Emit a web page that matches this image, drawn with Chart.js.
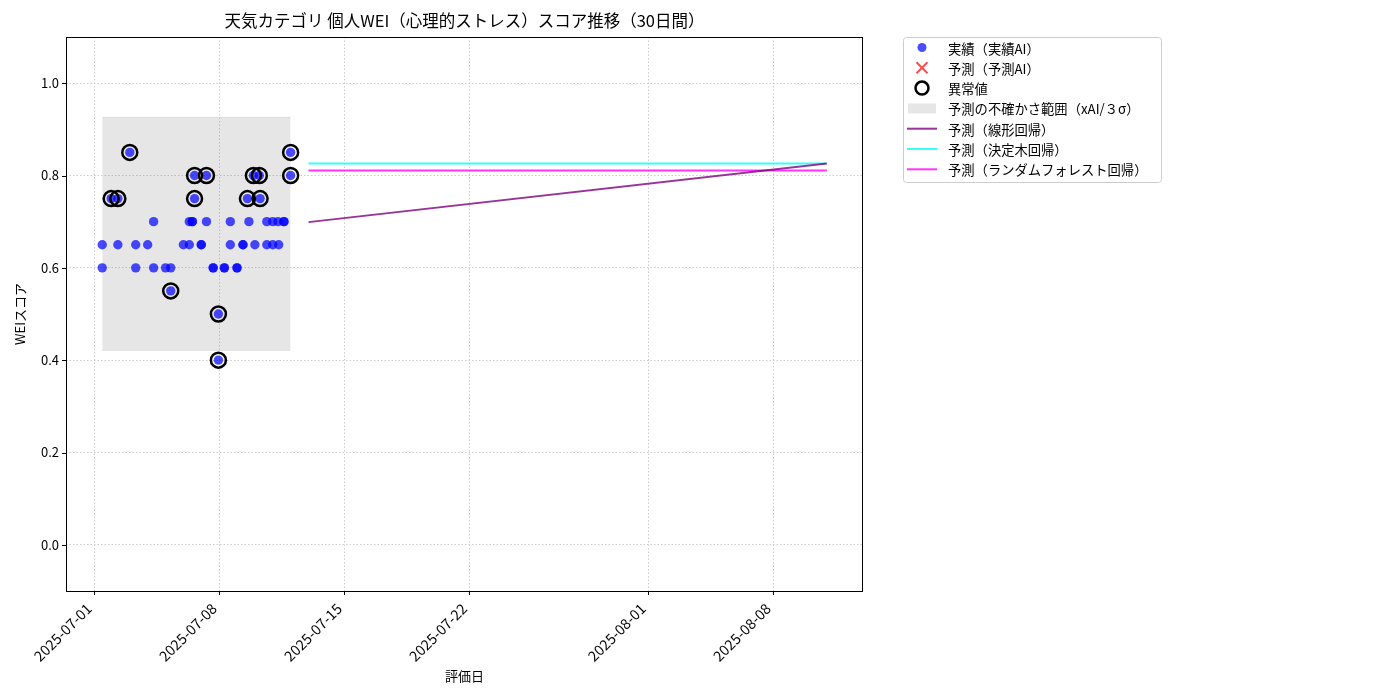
<!DOCTYPE html>
<html>
<head>
<meta charset="utf-8">
<script src="https://cdn.jsdelivr.net/npm/chart.js@4/dist/chart.umd.min.js"></script>
<style>
  html, body { margin: 0; padding: 0; background: #fff; }
  #wrap { width: 1400px; height: 700px; }
</style>
</head>
<body>
<div id="wrap"><canvas id="chart"></canvas></div>
<script>
// actual scores (実績)
const actualDates = [
  '2025-07-01T11:00', '2025-07-01T11:00', '2025-07-01T23:00', '2025-07-02T08:00', '2025-07-02T08:00',
  '2025-07-03T00:00', '2025-07-03T08:00', '2025-07-03T08:00', '2025-07-04T00:00', '2025-07-04T08:00',
  '2025-07-04T08:00', '2025-07-05T00:00', '2025-07-05T07:00', '2025-07-05T07:00', '2025-07-06T00:00',
  '2025-07-06T08:00', '2025-07-06T08:00', '2025-07-06T12:00', '2025-07-06T12:00', '2025-07-06T15:00',
  '2025-07-06T15:00', '2025-07-07T00:00', '2025-07-07T00:00', '2025-07-07T07:00', '2025-07-07T07:00',
  '2025-07-07T16:00', '2025-07-07T16:00', '2025-07-07T23:00', '2025-07-07T23:00', '2025-07-08T07:00',
  '2025-07-08T07:00', '2025-07-08T15:00', '2025-07-08T15:00', '2025-07-09T00:00', '2025-07-09T00:00',
  '2025-07-09T08:00', '2025-07-09T08:00', '2025-07-09T14:00', '2025-07-09T16:00', '2025-07-09T22:00',
  '2025-07-10T00:00', '2025-07-10T06:00', '2025-07-10T07:00', '2025-07-10T16:00', '2025-07-10T16:00',
  '2025-07-11T00:00', '2025-07-11T00:00', '2025-07-11T07:00', '2025-07-11T08:00', '2025-07-11T15:00',
  '2025-07-11T15:00', '2025-07-12T00:00', '2025-07-12T00:00'
];
const actualValues = [
  0.65, 0.60, 0.75, 0.75, 0.65,
  0.85, 0.65, 0.60, 0.65, 0.70,
  0.60, 0.60, 0.60, 0.55, 0.65,
  0.65, 0.70, 0.70, 0.70, 0.80,
  0.75, 0.65, 0.65, 0.80, 0.70,
  0.60, 0.60, 0.50, 0.40, 0.60,
  0.60, 0.70, 0.65, 0.60, 0.60,
  0.65, 0.65, 0.75, 0.70, 0.80,
  0.65, 0.80, 0.75, 0.70, 0.65,
  0.70, 0.65, 0.70, 0.65, 0.70,
  0.70, 0.85, 0.80
];

// anomalies (異常値)
const anomalyDates = [
  '2025-07-01T23:00', '2025-07-02T08:00', '2025-07-03T00:00', '2025-07-05T07:00', '2025-07-06T15:00',
  '2025-07-06T15:00', '2025-07-07T07:00', '2025-07-07T23:00', '2025-07-07T23:00', '2025-07-09T14:00',
  '2025-07-09T22:00', '2025-07-10T06:00', '2025-07-10T07:00', '2025-07-12T00:00', '2025-07-12T00:00'
];
const anomalyValues = [
  0.75, 0.75, 0.85, 0.55, 0.80,
  0.75, 0.80, 0.50, 0.40, 0.75,
  0.80, 0.80, 0.75, 0.85, 0.80
];

// uncertainty band (xAI / 3σ)
const bandDates = ['2025-07-01T11:00', '2025-07-12T00:00'];
const bandUpper = [0.926, 0.926];
const bandLower = [0.421, 0.421];

// forecast lines
const forecastDates = ['2025-07-13', '2025-08-11'];
const linearValues = [0.699, 0.826];
const treeValues = [0.826, 0.826];
const forestValues = [0.811, 0.811];

// ticks
const xTickDates = ['2025-07-01', '2025-07-08', '2025-07-15', '2025-07-22', '2025-08-01', '2025-08-08'];
const yTickValues = [0.0, 0.2, 0.4, 0.6, 0.8, 1.0];

const t = s => Date.parse(s + (s.length === 10 ? 'T00:00Z' : 'Z'));
const pts = (ds, vs) => ds.map((d, i) => ({ x: t(d), y: vs[i] }));

const allX = actualDates.concat(forecastDates).map(t);
const xMin0 = Math.min(...allX), xMax0 = Math.max(...allX);
const xPad = (xMax0 - xMin0) * 0.05;

const FONT = '"Noto Sans CJK JP", "Noto Sans", sans-serif';

const legendItems = [
  { label: '実績（実績AI）', type: 'dot' },
  { label: '予測（予測AI）', type: 'cross' },
  { label: '異常値', type: 'ring' },
  { label: '予測の不確かさ範囲（xAI/３σ）', type: 'rect' },
  { label: '予測（線形回帰）', type: 'line', color: 'rgba(128,0,128,0.8)' },
  { label: '予測（決定木回帰）', type: 'line', color: 'rgba(0,255,255,0.8)' },
  { label: '予測（ランダムフォレスト回帰）', type: 'line', color: 'rgba(255,0,255,0.8)' }
];

const decor = {
  id: 'decor',
  afterDraw(chart) {
    const { ctx, chartArea: a, scales } = chart;
    ctx.save();
    // frame
    ctx.strokeStyle = '#000';
    ctx.lineWidth = 1;
    ctx.strokeRect(a.left + 0.5, a.top + 0.5, a.right - a.left - 1, a.bottom - a.top);
    // tick marks
    ctx.beginPath();
    xTickDates.forEach(d => {
      const x = Math.round(scales.x.getPixelForValue(t(d))) + 0.5;
      ctx.moveTo(x, a.bottom); ctx.lineTo(x, a.bottom + 4);
    });
    yTickValues.forEach(v => {
      const y = Math.round(scales.y.getPixelForValue(v)) + 0.5;
      ctx.moveTo(a.left - 4, y); ctx.lineTo(a.left, y);
    });
    ctx.stroke();

    // rotated x tick labels
    ctx.fillStyle = '#000';
    ctx.font = '14.5px ' + FONT;
    ctx.textAlign = 'right';
    ctx.textBaseline = 'middle';
    xTickDates.forEach(d => {
      const x = scales.x.getPixelForValue(t(d));
      ctx.save();
      ctx.translate(x - 5, a.bottom + 15);
      ctx.rotate(-Math.PI / 4);
      ctx.fillText(d, 0, 0);
      ctx.restore();
    });

    // title
    ctx.textAlign = 'center';
    ctx.font = '16.5px ' + FONT;
    ctx.fillText('天気カテゴリ 個人WEI（心理的ストレス）スコア推移（30日間）', (a.left + a.right) / 2, 21);
    // axis titles
    ctx.font = '13px ' + FONT;
    ctx.fillText('評価日', (a.left + a.right) / 2, 676);
    ctx.save();
    ctx.translate(20, (a.top + a.bottom) / 2);
    ctx.rotate(-Math.PI / 2);
    ctx.fillText('WEIスコア', 0, 0);
    ctx.restore();

    // legend
    const lx = 903, ly = 37, lw = 258, lh = 145;
    ctx.beginPath();
    ctx.roundRect(lx + 0.5, ly + 0.5, lw, lh, 3);
    ctx.fillStyle = 'rgba(255,255,255,0.8)';
    ctx.fill();
    ctx.strokeStyle = '#cccccc';
    ctx.stroke();
    ctx.font = '13.3px ' + FONT;
    ctx.textAlign = 'left';
    legendItems.forEach((it, i) => {
      const cy = ly + 10.5 + i * 20.3;
      const mx = 922;
      if (it.type === 'dot') {
        ctx.beginPath(); ctx.arc(mx, cy, 4.5, 0, Math.PI * 2);
        ctx.fillStyle = 'rgba(0,0,255,0.7)'; ctx.fill();
      } else if (it.type === 'cross') {
        ctx.beginPath();
        ctx.moveTo(mx - 5.5, cy - 5.5); ctx.lineTo(mx + 5.5, cy + 5.5);
        ctx.moveTo(mx + 5.5, cy - 5.5); ctx.lineTo(mx - 5.5, cy + 5.5);
        ctx.strokeStyle = 'rgba(255,0,0,0.7)'; ctx.lineWidth = 2; ctx.stroke();
      } else if (it.type === 'ring') {
        ctx.beginPath(); ctx.arc(mx, cy, 6.5, 0, Math.PI * 2);
        ctx.strokeStyle = '#000'; ctx.lineWidth = 2.5; ctx.stroke();
      } else if (it.type === 'rect') {
        ctx.fillStyle = 'rgba(128,128,128,0.2)';
        ctx.fillRect(908, cy - 5, 28, 10);
      } else {
        ctx.beginPath(); ctx.moveTo(907, cy); ctx.lineTo(937, cy);
        ctx.strokeStyle = it.color; ctx.lineWidth = 2; ctx.stroke();
      }
      ctx.fillStyle = '#000';
      ctx.fillText(it.label, 948, cy + 1);
    });
    ctx.restore();
  }
};

new Chart(document.getElementById('chart').getContext('2d'), {
  type: 'scatter',
  data: {
    datasets: [
      {
        label: '異常値',
        data: pts(anomalyDates, anomalyValues),
        pointRadius: 7.5,
        pointBorderWidth: 2.5,
        pointBackgroundColor: 'rgba(0,0,0,0)',
        pointBorderColor: '#000',
        order: 0
      },
      {
        label: '実績（実績AI）',
        data: pts(actualDates, actualValues),
        pointRadius: 4.7,
        pointBorderWidth: 0,
        pointBackgroundColor: 'rgba(0,0,255,0.7)',
        order: 1
      },
      {
        type: 'line',
        label: '予測（線形回帰）',
        data: pts(forecastDates, linearValues),
        borderColor: 'rgba(128,0,128,0.8)',
        borderWidth: 2,
        pointRadius: 0,
        order: 2
      },
      {
        type: 'line',
        label: '予測（決定木回帰）',
        data: pts(forecastDates, treeValues),
        borderColor: 'rgba(0,255,255,0.8)',
        borderWidth: 2,
        pointRadius: 0,
        order: 3
      },
      {
        type: 'line',
        label: '予測（ランダムフォレスト回帰）',
        data: pts(forecastDates, forestValues),
        borderColor: 'rgba(255,0,255,0.8)',
        borderWidth: 2,
        pointRadius: 0,
        order: 4
      },
      {
        type: 'line',
        label: '予測の不確かさ範囲',
        data: pts(bandDates, bandUpper),
        borderColor: 'rgba(128,128,128,0.15)',
        borderWidth: 1,
        backgroundColor: 'rgba(128,128,128,0.2)',
        pointRadius: 0,
        fill: '+1',
        order: 5
      },
      {
        type: 'line',
        label: 'band lower',
        data: pts(bandDates, bandLower),
        borderColor: 'rgba(128,128,128,0.15)',
        borderWidth: 1,
        pointRadius: 0,
        order: 6
      }
    ]
  },
  options: {
    responsive: true,
    maintainAspectRatio: false,
    animation: false,
    layout: { padding: { top: 37, right: 537, left: 0, bottom: 0 } },
    plugins: {
      legend: { display: false },
      title: { display: false },
      tooltip: { enabled: false },
      filler: { propagate: false }
    },
    scales: {
      x: {
        type: 'linear',
        min: xMin0 - xPad,
        max: xMax0 + xPad,
        afterBuildTicks: s => { s.ticks = xTickDates.map(d => ({ value: t(d) })); },
        afterFit: s => { s.height = 109; },
        grid: { color: '#cccccc', drawTicks: false },
        border: { display: false, dash: [1.5, 2] },
        ticks: { display: false }
      },
      y: {
        min: -0.1,
        max: 1.1,
        afterBuildTicks: s => { s.ticks = yTickValues.map(v => ({ value: v })); },
        afterFit: s => { s.width = 66; },
        grid: { color: '#cccccc', drawTicks: false },
        border: { display: false, dash: [1.5, 2] },
        ticks: {
          padding: 7,
          color: '#000',
          font: { family: FONT, size: 13 },
          callback: v => v.toFixed(1)
        }
      }
    }
  },
  plugins: [decor]
});
</script>
</body>
</html>
